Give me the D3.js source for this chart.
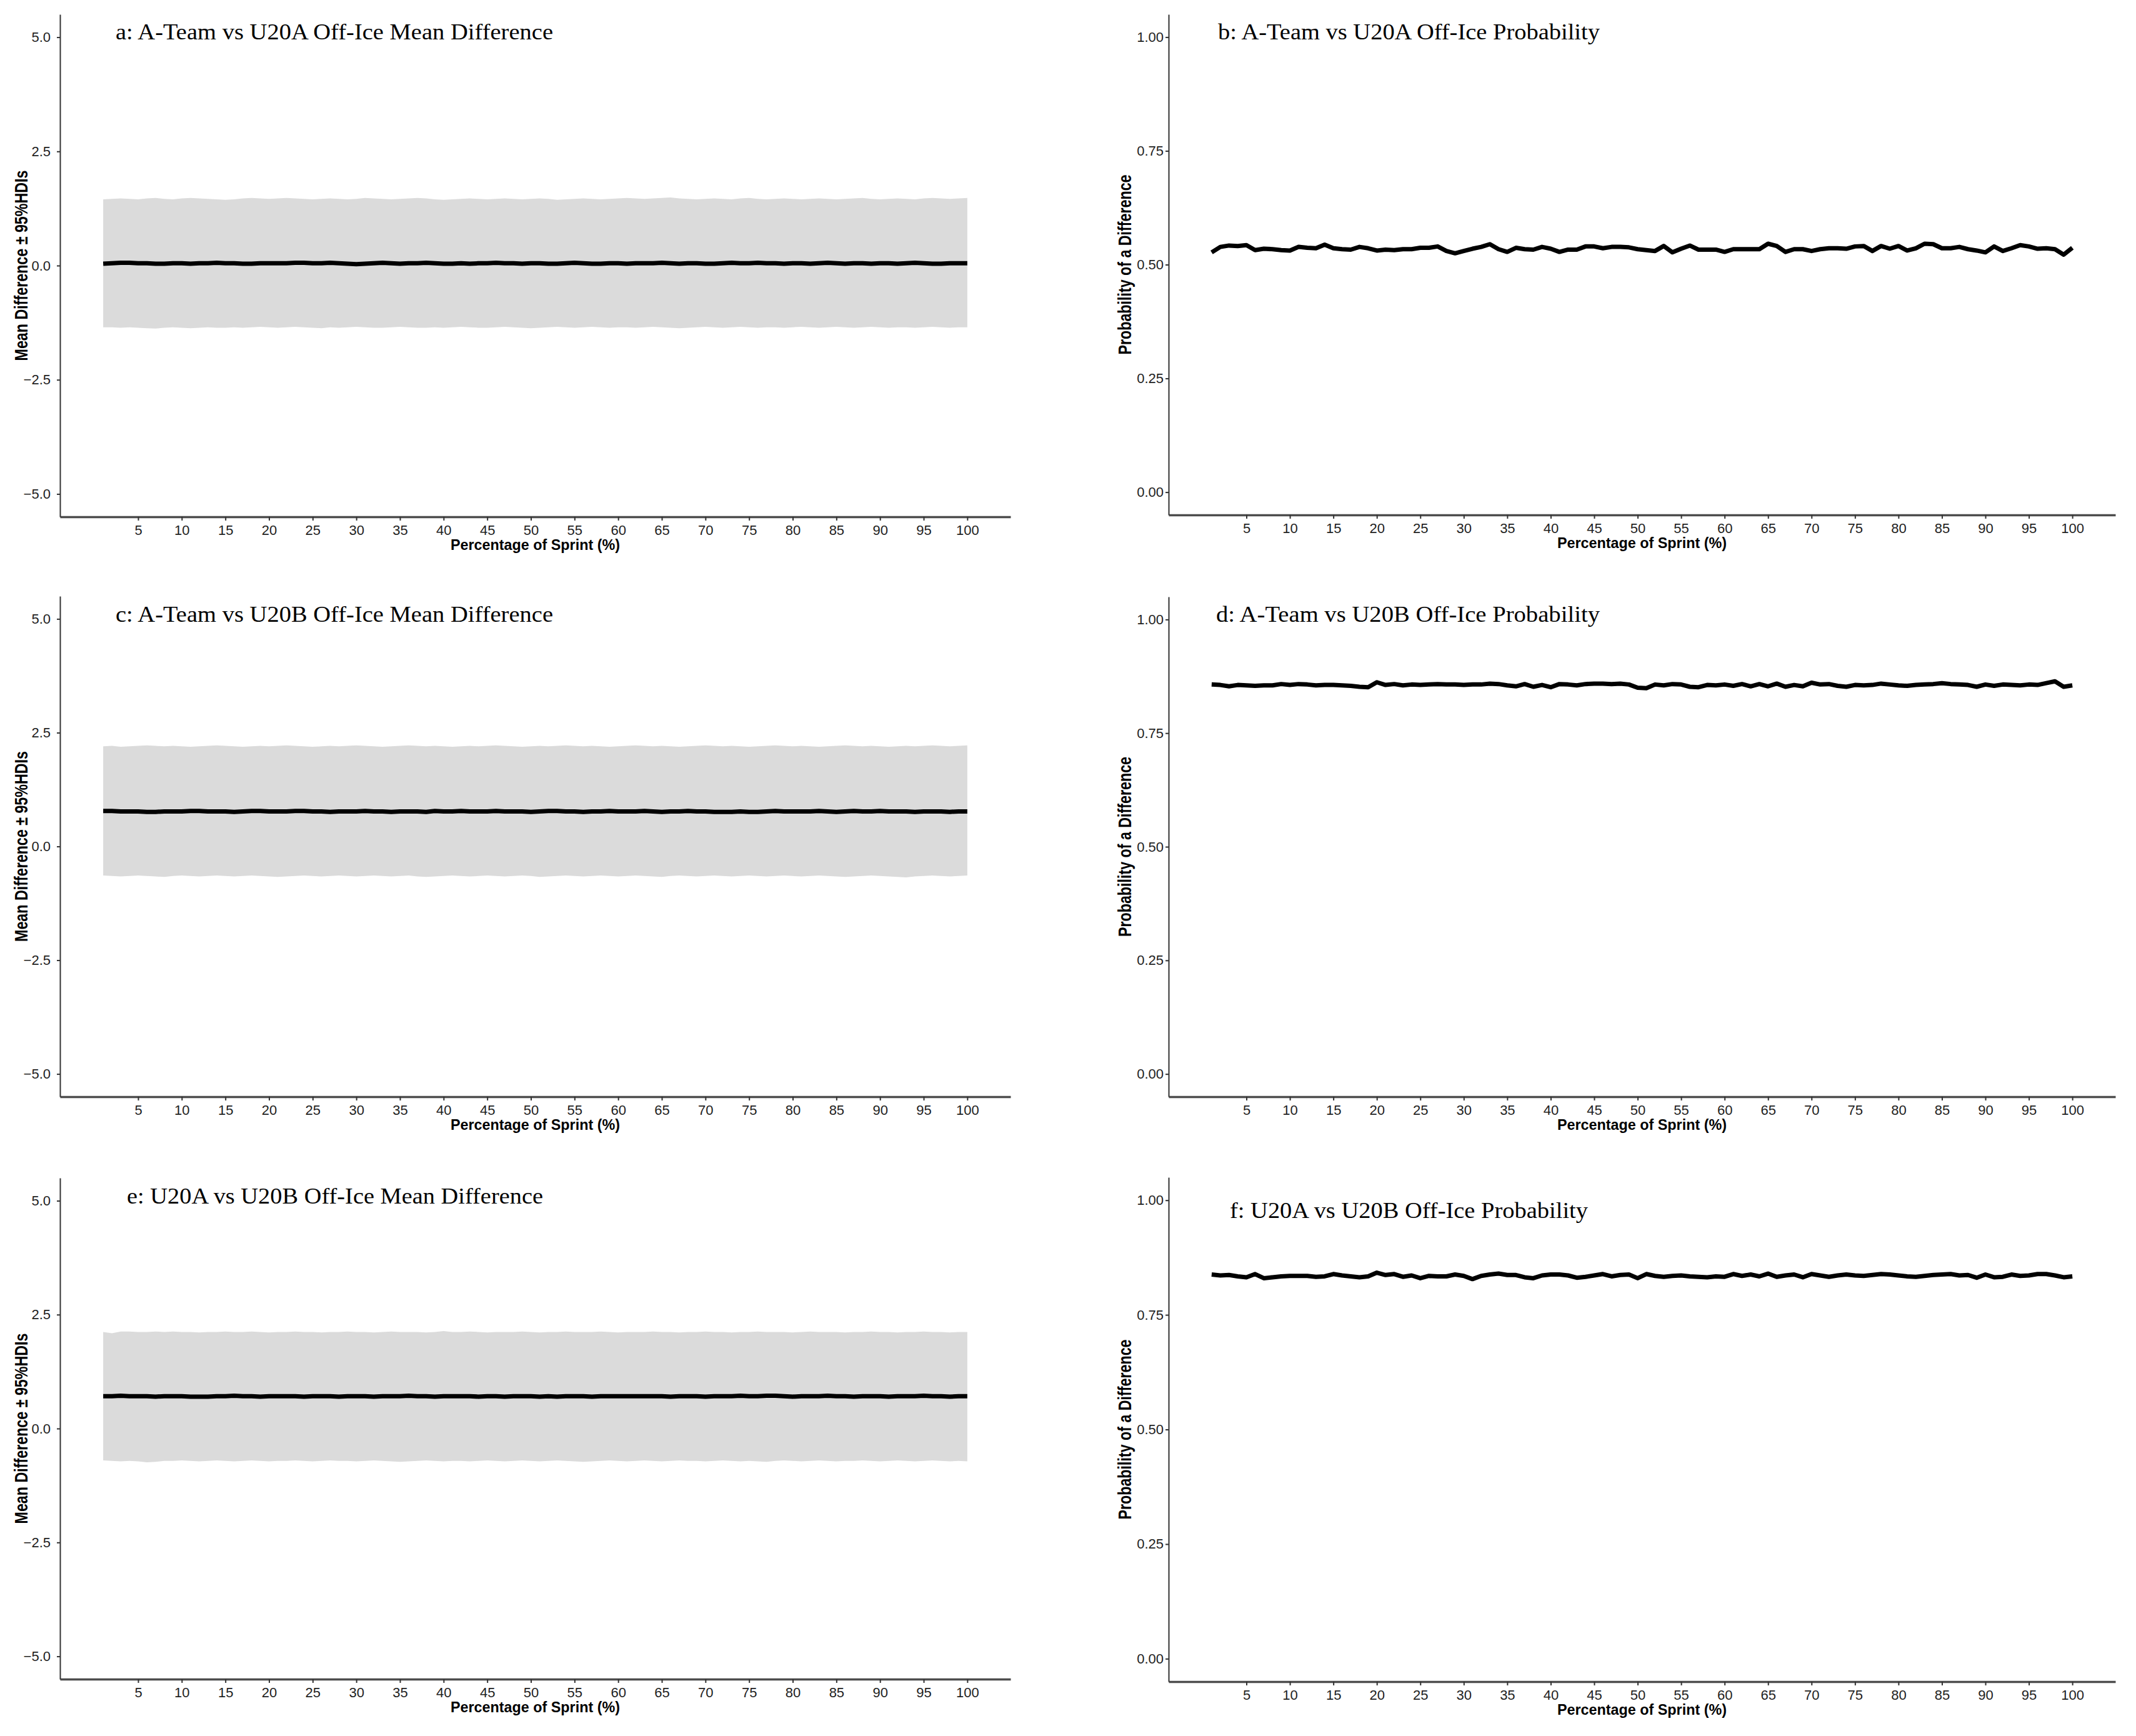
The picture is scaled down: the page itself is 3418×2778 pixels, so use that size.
<!DOCTYPE html>
<html>
<head>
<meta charset="utf-8">
<script src="https://cdn.jsdelivr.net/npm/d3@7"></script>
<style>
  body { margin: 0; background: #fff; }
</style>
</head>
<body>
<div id="container"></div>
<script>
let w = 3418;
let h = 2778;

// ---- data ----
const sprintPct = d3.range(1, 101);
const xTicks = [5, 10, 15, 20, 25, 30, 35, 40, 45, 50, 55, 60, 65, 70, 75, 80, 85, 90, 95, 100];
const diffTicks = [-5, -2.5, 0, 2.5, 5];
const probTicks = [0, 0.25, 0.5, 0.75, 1];

const titleA = "a: A-Team vs U20A Off-Ice Mean Difference";
const titleB = "b: A-Team vs U20A Off-Ice Probability";
const titleC = "c: A-Team vs U20B Off-Ice Mean Difference";
const titleD = "d: A-Team vs U20B Off-Ice Probability";
const titleE = "e: U20A vs U20B Off-Ice Mean Difference";
const titleF = "f: U20A vs U20B Off-Ice Probability";

const xLabel = "Percentage of Sprint (%)";
const diffLabel = "Mean Difference \u00b1 95%HDIs";
const probLabel = "Probability of a Difference";

// a: A-Team vs U20A mean difference and 95% HDI
const aMean = [0.04,0.05,0.06,0.06,0.05,0.05,0.04,0.04,0.05,0.05,
  0.04,0.05,0.05,0.06,0.05,0.05,0.04,0.04,0.05,0.05,
  0.05,0.05,0.06,0.06,0.05,0.05,0.06,0.05,0.04,0.03,
  0.04,0.05,0.06,0.05,0.04,0.05,0.05,0.06,0.05,0.04,
  0.04,0.05,0.04,0.05,0.05,0.06,0.05,0.05,0.04,0.05,
  0.05,0.04,0.04,0.05,0.06,0.05,0.04,0.04,0.05,0.05,
  0.04,0.05,0.05,0.05,0.06,0.05,0.04,0.05,0.05,0.04,
  0.04,0.05,0.06,0.05,0.05,0.06,0.05,0.05,0.04,0.05,
  0.05,0.04,0.05,0.06,0.05,0.04,0.05,0.05,0.04,0.05,
  0.05,0.04,0.05,0.06,0.05,0.04,0.04,0.05,0.05,0.05];
const aHi = [1.45,1.46,1.47,1.46,1.45,1.47,1.48,1.46,1.45,1.47,
  1.48,1.47,1.46,1.45,1.44,1.45,1.47,1.48,1.47,1.46,
  1.47,1.48,1.47,1.46,1.45,1.46,1.47,1.46,1.45,1.46,
  1.48,1.47,1.46,1.45,1.46,1.47,1.48,1.47,1.45,1.44,
  1.45,1.46,1.47,1.46,1.45,1.46,1.47,1.46,1.45,1.46,
  1.47,1.46,1.44,1.45,1.46,1.47,1.46,1.45,1.46,1.47,
  1.48,1.47,1.46,1.47,1.48,1.49,1.47,1.46,1.45,1.46,
  1.47,1.46,1.45,1.47,1.48,1.46,1.45,1.46,1.47,1.46,
  1.45,1.46,1.47,1.46,1.45,1.46,1.47,1.48,1.46,1.45,
  1.46,1.47,1.46,1.45,1.47,1.48,1.47,1.46,1.47,1.48];
const aLo = [-1.35,-1.35,-1.36,-1.35,-1.36,-1.37,-1.38,-1.36,-1.35,-1.36,
  -1.37,-1.36,-1.35,-1.36,-1.36,-1.35,-1.36,-1.35,-1.34,-1.35,
  -1.36,-1.35,-1.34,-1.35,-1.36,-1.37,-1.35,-1.36,-1.35,-1.34,
  -1.35,-1.36,-1.36,-1.35,-1.34,-1.35,-1.36,-1.36,-1.35,-1.36,
  -1.35,-1.34,-1.35,-1.36,-1.36,-1.35,-1.34,-1.35,-1.36,-1.37,
  -1.36,-1.35,-1.34,-1.35,-1.36,-1.35,-1.34,-1.35,-1.36,-1.35,
  -1.35,-1.36,-1.35,-1.34,-1.35,-1.36,-1.37,-1.36,-1.35,-1.34,
  -1.35,-1.36,-1.35,-1.34,-1.35,-1.36,-1.35,-1.35,-1.36,-1.35,
  -1.34,-1.35,-1.36,-1.35,-1.34,-1.35,-1.36,-1.35,-1.34,-1.35,
  -1.36,-1.35,-1.35,-1.36,-1.35,-1.34,-1.35,-1.36,-1.35,-1.35];

// b: A-Team vs U20A probability of a difference
const bProb = [0.527,0.539,0.542,0.541,0.543,0.532,0.535,0.534,0.532,0.531,
  0.539,0.537,0.536,0.544,0.536,0.534,0.533,0.539,0.536,0.531,
  0.533,0.532,0.534,0.534,0.537,0.537,0.540,0.530,0.525,0.530,
  0.535,0.539,0.545,0.534,0.528,0.537,0.534,0.533,0.539,0.535,
  0.528,0.533,0.533,0.540,0.540,0.536,0.539,0.539,0.538,0.534,
  0.532,0.530,0.541,0.527,0.535,0.542,0.533,0.533,0.533,0.528,
  0.534,0.534,0.534,0.534,0.546,0.541,0.528,0.534,0.534,0.530,
  0.534,0.536,0.536,0.535,0.540,0.541,0.530,0.541,0.535,0.541,
  0.531,0.536,0.546,0.545,0.536,0.536,0.539,0.534,0.531,0.527,
  0.540,0.530,0.536,0.543,0.540,0.535,0.536,0.534,0.522,0.537];

// c: A-Team vs U20B mean difference and 95% HDI
const cMean = [0.78,0.78,0.77,0.77,0.77,0.76,0.76,0.77,0.77,0.77,
  0.78,0.78,0.77,0.77,0.77,0.76,0.77,0.78,0.78,0.77,
  0.77,0.77,0.78,0.78,0.77,0.77,0.76,0.77,0.77,0.77,
  0.78,0.77,0.77,0.76,0.77,0.77,0.77,0.76,0.78,0.77,
  0.77,0.78,0.77,0.77,0.77,0.78,0.77,0.77,0.77,0.76,
  0.77,0.78,0.78,0.77,0.77,0.76,0.77,0.77,0.78,0.77,
  0.77,0.77,0.78,0.77,0.76,0.77,0.77,0.78,0.77,0.77,
  0.76,0.76,0.76,0.77,0.76,0.76,0.77,0.78,0.77,0.77,
  0.77,0.77,0.78,0.77,0.76,0.77,0.78,0.77,0.77,0.78,
  0.77,0.77,0.77,0.76,0.77,0.77,0.77,0.76,0.77,0.77];
const cHi = [2.20,2.21,2.19,2.20,2.21,2.22,2.21,2.20,2.21,2.20,
  2.19,2.20,2.21,2.22,2.21,2.20,2.19,2.20,2.21,2.20,
  2.21,2.22,2.21,2.20,2.19,2.20,2.21,2.20,2.21,2.22,
  2.21,2.20,2.19,2.20,2.21,2.22,2.21,2.20,2.21,2.20,
  2.19,2.20,2.21,2.20,2.21,2.22,2.21,2.20,2.19,2.20,
  2.21,2.20,2.21,2.22,2.21,2.20,2.21,2.20,2.19,2.20,
  2.21,2.22,2.21,2.20,2.21,2.20,2.19,2.20,2.21,2.22,
  2.21,2.20,2.21,2.20,2.19,2.20,2.21,2.22,2.21,2.20,
  2.21,2.20,2.19,2.20,2.21,2.22,2.21,2.20,2.21,2.20,
  2.19,2.20,2.21,2.20,2.21,2.22,2.21,2.20,2.21,2.22];
const cLo = [-0.64,-0.65,-0.66,-0.65,-0.64,-0.65,-0.66,-0.67,-0.65,-0.64,
  -0.65,-0.66,-0.65,-0.64,-0.65,-0.66,-0.65,-0.64,-0.65,-0.66,
  -0.67,-0.66,-0.65,-0.64,-0.65,-0.66,-0.65,-0.64,-0.65,-0.66,
  -0.65,-0.64,-0.65,-0.66,-0.65,-0.64,-0.66,-0.67,-0.66,-0.65,
  -0.64,-0.65,-0.66,-0.65,-0.64,-0.65,-0.66,-0.65,-0.64,-0.65,
  -0.67,-0.66,-0.65,-0.64,-0.65,-0.66,-0.65,-0.64,-0.65,-0.66,
  -0.65,-0.64,-0.65,-0.66,-0.67,-0.65,-0.64,-0.65,-0.66,-0.65,
  -0.64,-0.65,-0.66,-0.65,-0.64,-0.65,-0.66,-0.65,-0.64,-0.65,
  -0.66,-0.65,-0.64,-0.65,-0.66,-0.67,-0.66,-0.65,-0.64,-0.65,
  -0.66,-0.67,-0.68,-0.66,-0.65,-0.64,-0.65,-0.66,-0.65,-0.64];

// d: A-Team vs U20B probability of a difference
const dProb = [0.857,0.856,0.853,0.856,0.855,0.854,0.855,0.855,0.858,0.856,
  0.858,0.857,0.855,0.856,0.856,0.855,0.854,0.852,0.851,0.862,
  0.856,0.858,0.855,0.857,0.856,0.857,0.858,0.857,0.857,0.856,
  0.857,0.857,0.859,0.858,0.855,0.853,0.858,0.852,0.856,0.851,
  0.858,0.857,0.855,0.858,0.859,0.859,0.858,0.859,0.857,0.850,
  0.849,0.857,0.855,0.858,0.857,0.852,0.851,0.856,0.855,0.857,
  0.854,0.858,0.853,0.858,0.853,0.859,0.852,0.856,0.853,0.861,
  0.857,0.858,0.854,0.852,0.856,0.855,0.856,0.859,0.857,0.855,
  0.854,0.856,0.857,0.858,0.860,0.858,0.857,0.856,0.852,0.857,
  0.854,0.857,0.856,0.855,0.857,0.856,0.860,0.864,0.852,0.855];

// e: U20A vs U20B mean difference and 95% HDI
const eMean = [0.71,0.71,0.72,0.71,0.71,0.71,0.70,0.71,0.71,0.71,
  0.70,0.70,0.70,0.71,0.71,0.72,0.71,0.71,0.70,0.71,
  0.71,0.71,0.71,0.70,0.71,0.71,0.71,0.70,0.71,0.71,
  0.71,0.70,0.71,0.71,0.71,0.72,0.71,0.71,0.70,0.71,
  0.71,0.71,0.71,0.70,0.71,0.71,0.70,0.71,0.71,0.71,
  0.70,0.71,0.70,0.71,0.71,0.71,0.70,0.71,0.71,0.71,
  0.71,0.71,0.71,0.71,0.71,0.70,0.71,0.71,0.71,0.70,
  0.71,0.71,0.71,0.72,0.71,0.71,0.72,0.72,0.71,0.70,
  0.71,0.71,0.71,0.72,0.71,0.71,0.70,0.71,0.71,0.71,
  0.70,0.71,0.71,0.71,0.72,0.71,0.71,0.70,0.71,0.71];
const eHi = [2.12,2.09,2.13,2.13,2.12,2.12,2.13,2.12,2.13,2.12,
  2.12,2.11,2.12,2.12,2.13,2.12,2.12,2.13,2.12,2.11,
  2.12,2.12,2.13,2.12,2.12,2.11,2.12,2.12,2.13,2.12,
  2.12,2.11,2.12,2.13,2.12,2.12,2.12,2.11,2.12,2.14,
  2.12,2.12,2.13,2.12,2.11,2.12,2.12,2.12,2.13,2.12,
  2.11,2.12,2.12,2.13,2.12,2.12,2.12,2.13,2.12,2.11,
  2.12,2.12,2.12,2.13,2.12,2.12,2.11,2.12,2.12,2.13,
  2.12,2.12,2.11,2.12,2.12,2.13,2.12,2.12,2.12,2.11,
  2.12,2.13,2.12,2.12,2.12,2.11,2.12,2.12,2.13,2.12,
  2.12,2.11,2.12,2.12,2.13,2.12,2.12,2.11,2.12,2.12];
const eLo = [-0.70,-0.71,-0.72,-0.71,-0.72,-0.74,-0.73,-0.71,-0.71,-0.70,
  -0.71,-0.72,-0.71,-0.70,-0.71,-0.72,-0.71,-0.70,-0.71,-0.72,
  -0.71,-0.71,-0.70,-0.71,-0.72,-0.71,-0.70,-0.71,-0.71,-0.72,
  -0.71,-0.70,-0.71,-0.72,-0.73,-0.72,-0.71,-0.70,-0.71,-0.72,
  -0.71,-0.71,-0.72,-0.71,-0.70,-0.71,-0.72,-0.71,-0.70,-0.71,
  -0.72,-0.71,-0.70,-0.71,-0.72,-0.73,-0.72,-0.71,-0.70,-0.71,
  -0.72,-0.71,-0.70,-0.71,-0.72,-0.71,-0.70,-0.71,-0.71,-0.72,
  -0.71,-0.70,-0.71,-0.72,-0.71,-0.72,-0.73,-0.71,-0.70,-0.71,
  -0.72,-0.71,-0.70,-0.71,-0.72,-0.71,-0.71,-0.70,-0.71,-0.72,
  -0.71,-0.70,-0.71,-0.72,-0.71,-0.70,-0.71,-0.72,-0.71,-0.72];

// f: U20A vs U20B probability of a difference
const fProb = [0.838,0.836,0.837,0.834,0.832,0.839,0.830,0.832,0.834,0.835,
  0.835,0.835,0.833,0.834,0.839,0.836,0.834,0.832,0.834,0.842,
  0.837,0.839,0.833,0.836,0.830,0.835,0.834,0.834,0.838,0.835,
  0.828,0.835,0.838,0.840,0.837,0.837,0.832,0.830,0.836,0.838,
  0.838,0.836,0.831,0.833,0.836,0.839,0.834,0.837,0.838,0.830,
  0.839,0.835,0.833,0.835,0.836,0.834,0.833,0.832,0.834,0.833,
  0.839,0.835,0.838,0.834,0.840,0.833,0.836,0.838,0.832,0.839,
  0.836,0.833,0.836,0.838,0.836,0.835,0.837,0.839,0.838,0.836,
  0.834,0.833,0.835,0.837,0.838,0.839,0.836,0.837,0.831,0.838,
  0.832,0.833,0.838,0.835,0.836,0.839,0.839,0.836,0.832,0.834];

// ---- layout ----
let viz = d3.select("#container")
  .append("svg")
  .attr("width", w)
  .attr("height", h);

let leftCol = { left: 96, right: 1617, labelX: 33, tickPad: 10 };
let rightCol = { left: 1870, right: 3385, labelX: 1799, tickPad: 3 };

let panels = [
  { col: leftCol, top: 23, bottom: 827, kind: "diff", mean: aMean, lo: aLo, hi: aHi, title: titleA, tx: 185, ty: 63, tw: 700 },
  { col: rightCol, top: 23, bottom: 824, kind: "prob", prob: bProb, title: titleB, tx: 1949, ty: 63, tw: 611 },
  { col: leftCol, top: 954, bottom: 1755, kind: "diff", mean: cMean, lo: cLo, hi: cHi, title: titleC, tx: 185, ty: 995, tw: 700 },
  { col: rightCol, top: 955, bottom: 1755, kind: "prob", prob: dProb, title: titleD, tx: 1946, ty: 995, tw: 614 },
  { col: leftCol, top: 1885, bottom: 2687, kind: "diff", mean: eMean, lo: eLo, hi: eHi, title: titleE, tx: 203, ty: 1926, tw: 666 },
  { col: rightCol, top: 1884, bottom: 2691, kind: "prob", prob: fProb, title: titleF, tx: 1968, ty: 1949, tw: 573 }
];

panels.forEach(drawPanel);

function drawPanel(p) {
  let g = viz.append("g").attr("class", "panel");

  let xScale = d3.scaleLinear().domain([-3.95, 104.95]).range([p.col.left, p.col.right]);
  let yDomain = p.kind == "diff" ? [-5.5, 5.5] : [-0.05, 1.05];
  let yScale = d3.scaleLinear().domain(yDomain).range([p.bottom, p.top]);

  if (p.kind == "diff") {
    // HDI ribbon
    let band = d3.area()
      .x((d, i) => xScale(sprintPct[i]))
      .y0((d, i) => yScale(p.lo[i]))
      .y1((d, i) => yScale(p.hi[i]));
    g.append("path")
      .datum(p.hi)
      .attr("d", band)
      .attr("fill", "#dbdbdb");
  }

  let values = p.kind == "diff" ? p.mean : p.prob;
  let line = d3.line()
    .x((d, i) => xScale(sprintPct[i]))
    .y(d => yScale(d));
  g.append("path")
    .datum(values)
    .attr("d", line)
    .attr("fill", "none")
    .attr("stroke", "#000")
    .attr("stroke-width", 7)
    .attr("stroke-linejoin", "round");

  // x axis
  let xAxis = d3.axisBottom(xScale).tickValues(xTicks).tickSize(6).tickSizeOuter(0).tickPadding(7);
  let xAxisGroup = g.append("g").attr("class", "xaxis")
    .attr("transform", "translate(0," + p.bottom + ")")
    .call(xAxis);
  xAxisGroup.select(".domain").attr("stroke", "#4d4d4d").attr("stroke-width", 3.5);
  xAxisGroup.selectAll(".tick line").attr("stroke", "#333").attr("stroke-width", 2);
  xAxisGroup.selectAll(".tick text")
    .attr("font-family", "'Liberation Sans', Arial, sans-serif")
    .attr("font-size", 22)
    .attr("fill", "#222");

  // y axis
  let yTicks = p.kind == "diff" ? diffTicks : probTicks;
  let yFormat = p.kind == "diff" ? d3.format(".1f") : d3.format(".2f");
  let yAxis = d3.axisLeft(yScale).tickValues(yTicks).tickFormat(yFormat)
    .tickSize(5).tickSizeOuter(0).tickPadding(p.col.tickPad);
  let yAxisGroup = g.append("g").attr("class", "yaxis")
    .attr("transform", "translate(" + p.col.left + ",0)")
    .call(yAxis);
  yAxisGroup.select(".domain").attr("stroke", "#333").attr("stroke-width", 2);
  yAxisGroup.selectAll(".tick line").attr("stroke", "#333").attr("stroke-width", 2);
  yAxisGroup.selectAll(".tick text")
    .attr("font-family", "'Liberation Sans', Arial, sans-serif")
    .attr("font-size", 22)
    .attr("fill", "#222");

  // panel title (narrow serif, squeezed to the measured width)
  g.append("text")
    .text(p.title)
    .attr("x", p.tx)
    .attr("y", p.ty)
    .attr("font-family", "'Liberation Serif', 'Times New Roman', serif")
    .attr("font-size", 35)
    .attr("textLength", p.tw)
    .attr("lengthAdjust", "spacingAndGlyphs")
    .attr("fill", "#000");

  // x axis title
  g.append("text")
    .text(xLabel)
    .attr("x", (p.col.left + p.col.right) / 2)
    .attr("y", p.bottom + 53)
    .attr("text-anchor", "middle")
    .attr("font-family", "'Liberation Sans', Arial, sans-serif")
    .attr("font-weight", "bold")
    .attr("font-size", 23)
    .attr("textLength", 271)
    .attr("lengthAdjust", "spacingAndGlyphs")
    .attr("fill", "#000");

  // y axis title (rotated, a little wider across than normal)
  let yLabel = p.kind == "diff" ? diffLabel : probLabel;
  let yLen = p.kind == "diff" ? 305 : 288;
  let cy = (p.top + p.bottom) / 2;
  g.append("text")
    .text(yLabel)
    .attr("transform", "translate(" + p.col.labelX + "," + cy + ") scale(1.2,1) rotate(-90)")
    .attr("text-anchor", "middle")
    .attr("dy", "0.36em")
    .attr("font-family", "'Liberation Sans', Arial, sans-serif")
    .attr("font-weight", "bold")
    .attr("font-size", 25)
    .attr("textLength", yLen)
    .attr("lengthAdjust", "spacingAndGlyphs")
    .attr("fill", "#000");
}
</script>
</body>
</html>
